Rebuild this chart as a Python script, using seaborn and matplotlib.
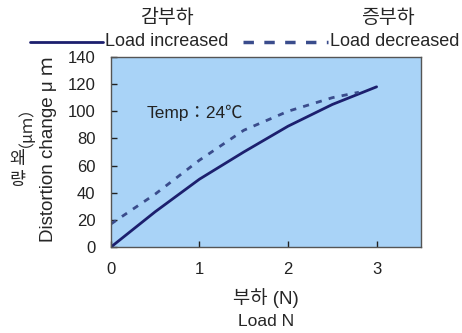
import matplotlib
matplotlib.use("Agg")
import matplotlib.pyplot as plt
from matplotlib.lines import Line2D
import seaborn as sns
import pandas as pd

# data
load_inc = [0, 0.5, 1.0, 1.5, 2.0, 2.5, 3.0]
dist_inc = [0, 26, 50, 70, 89, 105, 118]
load_dec = [0, 0.5, 1.0, 1.5, 2.0, 2.5, 2.8]
dist_dec = [17, 39, 64, 86, 100, 110, 114]
series_names = ["Load increased", "Load decreased"]
series_kr = ["감부하", "증부하"]
x_ticks = [0, 1, 2, 3]
y_ticks = [0, 20, 40, 60, 80, 100, 120, 140]

colors = {series_names[0]: "#1c1f6e", series_names[1]: "#3a4c8c"}
dash_pat = (2.2, 2.6)

sns.set_theme(style="ticks")
plt.rcParams["font.family"] = ["Liberation Sans", "Noto Sans CJK KR", "DejaVu Sans"]
plt.rcParams["axes.unicode_minus"] = False

df = pd.concat([
    pd.DataFrame({"load": load_inc, "dist": dist_inc, "series": series_names[0]}),
    pd.DataFrame({"load": load_dec, "dist": dist_dec, "series": series_names[1]}),
])

fig = plt.figure(figsize=(4.62, 3.33), dpi=100)
ax = fig.add_axes([0.240, 0.258, 0.671, 0.571])
ax.set_facecolor("#a9d3f7")

sns.lineplot(data=df, x="load", y="dist", hue="series", style="series",
             palette=colors,
             dashes={series_names[0]: "", series_names[1]: dash_pat},
             linewidth=2, sort=False, legend=False, ax=ax)

ax.set_xlim(0, 3.5)
ax.set_ylim(0, 140)
ax.set_xticks(x_ticks)
ax.set_yticks(y_ticks)
ax.tick_params(direction="in", length=4, width=1, labelsize=12, colors="#222222", pad=11)
for s in ax.spines.values():
    s.set_color("#555555")
    s.set_linewidth(1)

ax.set_xlabel("")
ax.set_ylabel("")
fig.text(0.575, 1 - 298 / 333, "부하 (N)", ha="center", va="center", fontsize=13.5)
fig.text(0.575, 1 - 321 / 333, "Load N", ha="center", va="center", fontsize=12.5)

ax.text(0.40, 99, "Temp：24℃", fontsize=12.5, va="center", color="#222222")

# y labels
fig.text(0.104, 0.553, "Distortion change μ ｍ", rotation=90, ha="center", va="center", fontsize=13.5)
fig.text(0.037, 1 - 118 / 333, "（μｍ）", rotation=90, ha="center", va="center", fontsize=11.5,
         family=["Noto Sans CJK KR", "DejaVu Sans"])
fig.text(0.037, 1 - 159 / 333, "왜", ha="center", va="center", fontsize=12.5)
fig.text(0.037, 1 - 180 / 333, "량", ha="center", va="center", fontsize=12.5)

# legend row on top
ly = 1 - 42 / 333
fig.add_artist(Line2D([30 / 462, 103 / 462], [ly, ly], color=colors[series_names[0]], lw=2))
fig.text(105 / 462, ly, series_names[0], ha="left", va="center", fontsize=13)
fig.add_artist(Line2D([243 / 462, 328 / 462], [ly, ly], color=colors[series_names[1]], lw=2.5,
                      dashes=(3, 3)))
fig.text(330 / 462, ly, series_names[1], ha="left", va="center", fontsize=13)
fig.text(167 / 462, 1 - 18 / 333, series_kr[0], ha="center", va="center", fontsize=14)
fig.text(388 / 462, 1 - 18 / 333, series_kr[1], ha="center", va="center", fontsize=14)

fig.savefig("out.png", dpi=100)
